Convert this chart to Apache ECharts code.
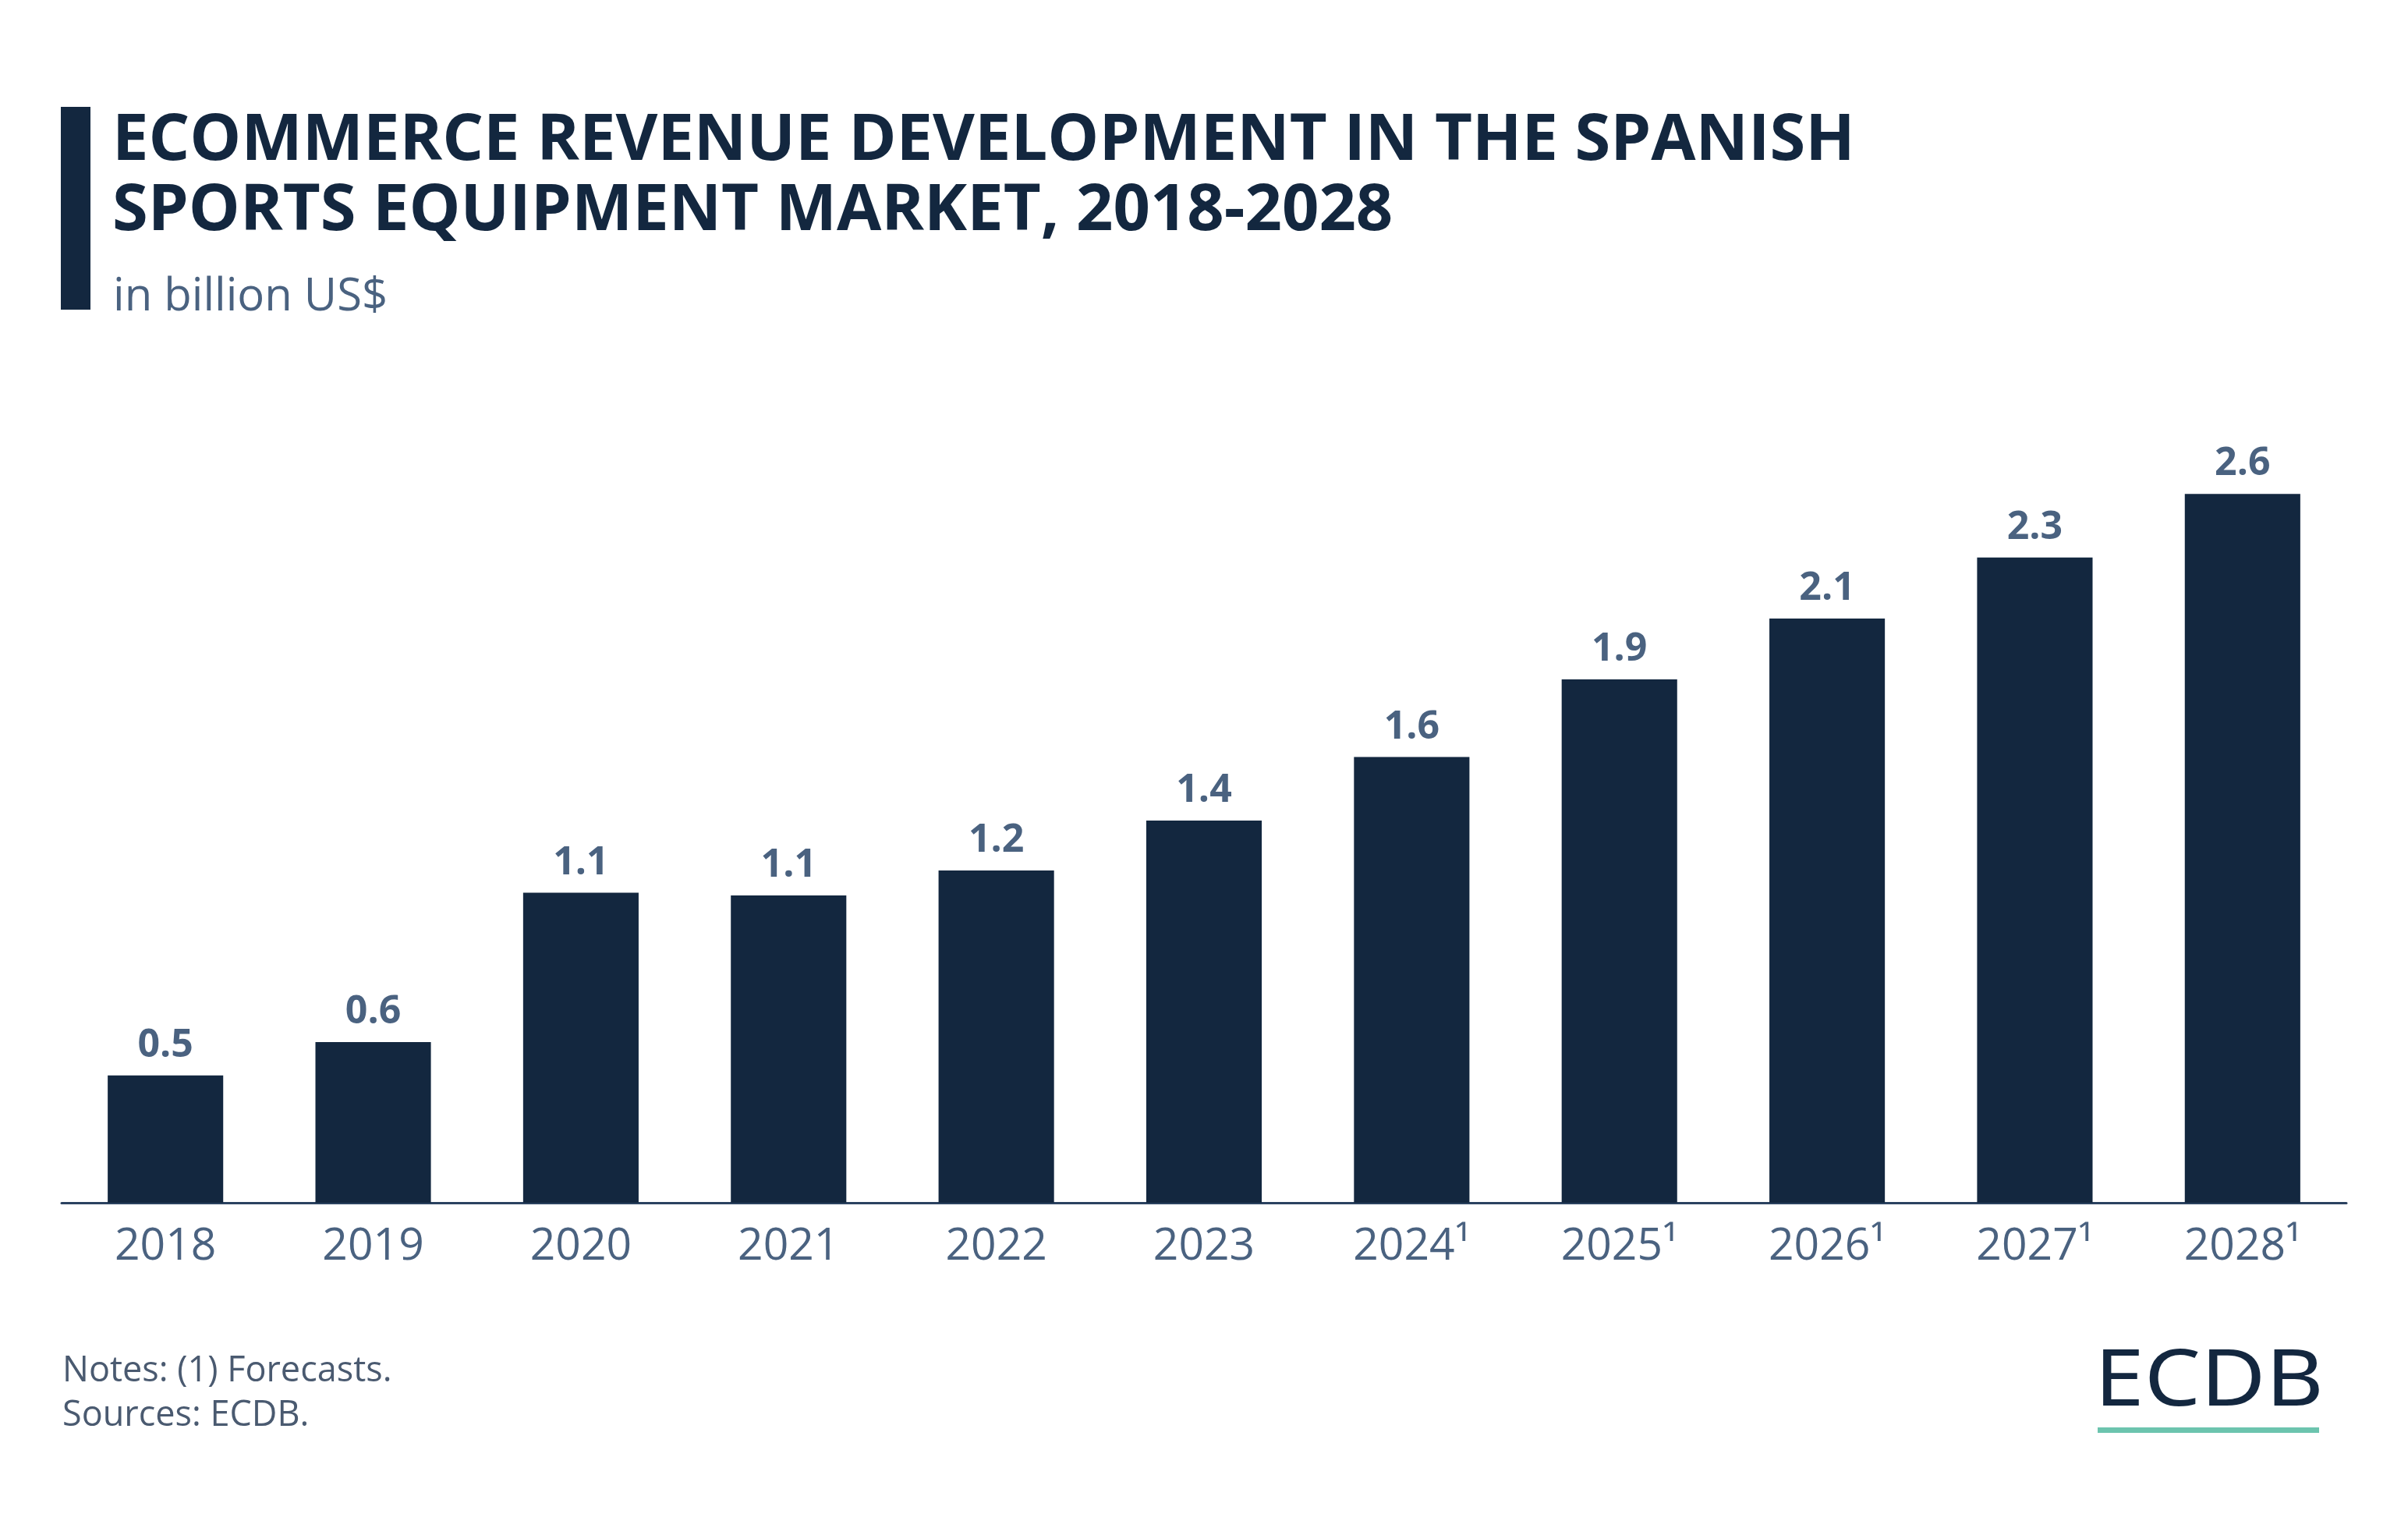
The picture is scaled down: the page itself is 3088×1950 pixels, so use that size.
<!DOCTYPE html>
<html>
<head>
<meta charset="utf-8">
<script src="https://cdn.jsdelivr.net/npm/echarts@6/dist/echarts.min.js"></script>
<style>
html,body{margin:0;padding:0;background:#ffffff;}
#chart{width:3088px;height:1950px;}
</style>
</head>
<body>
<div id="chart"></div>
<script>
const categories = ['2018','2019','2020','2021','2022','2023','2024¹','2025¹','2026¹','2027¹','2028¹'];
const revenue = [0.46, 0.58, 1.12, 1.11, 1.20, 1.38, 1.61, 1.89, 2.11, 2.33, 2.56];
const titleLines = ['ECOMMERCE REVENUE DEVELOPMENT IN THE SPANISH', 'SPORTS EQUIPMENT MARKET, 2018-2028'];
const subtitle = 'in billion US$';
const notes = ['Notes: (1) Forecasts.', 'Sources: ECDB.'];

const NAVY = '#13273f';
const SLATE = '#4a6280';

const chart = echarts.init(document.getElementById('chart'), null, {renderer: 'canvas'});
chart.setOption({
  backgroundColor: '#ffffff',
  animation: false,
  grid: {left: 79, right: 79, top: 477, bottom: 408, containLabel: false},
  xAxis: {
    type: 'category',
    data: categories,
    axisLine: {show: true, lineStyle: {color: '#2b4260', width: 3}},
    axisTick: {show: false},
    axisLabel: {color: SLATE, fontFamily: 'Open Sans', fontSize: 57, margin: 28}
  },
  yAxis: {
    type: 'value', min: 0, max: 3, interval: 0.5,
    show: false, splitLine: {show: false}
  },
  series: [{
    type: 'bar',
    data: revenue,
    barWidth: '55.6%',
    itemStyle: {color: NAVY},
    label: {
      show: true, position: 'top', distance: 13,
      color: SLATE, fontFamily: 'Open Sans', fontWeight: 'bold', fontSize: 50,
      formatter: p => p.value.toFixed(1)
    }
  }],
  graphic: [
    {type: 'rect', shape: {x: 78, y: 137, width: 38, height: 260}, style: {fill: NAVY}},
    {type: 'text', x: 144, y: 181, style: {text: titleLines[0], font: 'bold 83px "Open Sans"', fill: NAVY, verticalAlign: 'middle'}},
    {type: 'text', x: 144, y: 271, style: {text: titleLines[1], font: 'bold 83px "Open Sans"', fill: NAVY, verticalAlign: 'middle'}},
    {type: 'text', x: 145, y: 381, style: {text: subtitle, font: '58px "Open Sans"', fill: SLATE, verticalAlign: 'middle'}},
    {type: 'text', x: 80, y: 1758, style: {text: notes[0], font: '45px "Open Sans"', fill: '#4a5a70', verticalAlign: 'middle'}},
    {type: 'text', x: 80, y: 1815, style: {text: notes[1], font: '45px "Open Sans"', fill: '#4a5a70', verticalAlign: 'middle'}},
    {type: 'text', x: 2686, y: 1774, scaleX: 1.145, style: {text: 'ECDB', font: '100px "Noto Sans"', fill: NAVY, verticalAlign: 'middle'}},
    {type: 'rect', shape: {x: 2690, y: 1830, width: 284, height: 7}, style: {fill: '#6cc4ae'}}
  ]
});
</script>
</body>
</html>
